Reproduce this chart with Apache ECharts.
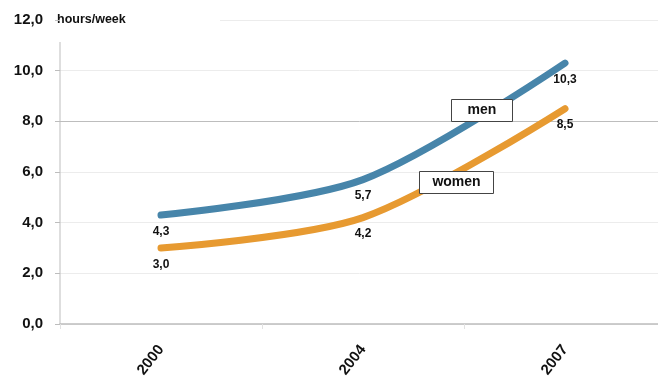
<!DOCTYPE html>
<html>
<head>
<meta charset="utf-8">
<script src="https://cdn.jsdelivr.net/npm/echarts@6/dist/echarts.min.js"></script>
<style>
  html, body { margin: 0; padding: 0; background: #fff; }
  #chart { width: 658px; height: 376px; }
</style>
</head>
<body>
<div id="chart"></div>
<script>
// Weekly hours, by year
const years = ['2000', '2004', '2007'];
const men = [4.3, 5.7, 10.3];
const women = [3.0, 4.2, 8.5];
const yTicks = [0, 2, 4, 6, 8, 10, 12];

const FONT = '"Liberation Sans", Arial, Helvetica, sans-serif';
const BLUE = '#4785aa';
const ORANGE = '#e79a31';

const fmt = v => v.toFixed(1).replace('.', ',');

const chart = echarts.init(document.getElementById('chart'));

// gridline colours per tick; the 8,0 line is drawn stronger, the top one separately
const gridColors = yTicks.map(t => t === 8 ? '#bdbdbd' : (t === 12 ? 'rgba(0,0,0,0)' : '#ececec'));

function lineSeries(name, values, color) {
  return {
    name: name,
    type: 'line',
    data: values,
    smooth: 0.3,
    showSymbol: true,
    symbol: 'circle',
    symbolSize: 1,
    lineStyle: { color: color, width: 7, cap: 'round' },
    itemStyle: { color: 'rgba(0,0,0,0)', borderWidth: 0 },
    label: {
      show: true,
      position: 'bottom',
      distance: 10,
      formatter: p => fmt(p.value),
      color: '#111',
      fontFamily: FONT,
      fontWeight: 'bold',
      fontSize: 12
    },
    z: 3
  };
}

chart.setOption({
  animation: false,
  grid: { left: 60, top: 20, width: 606, height: 304, containLabel: false, outerBoundsMode: 'none' },
  xAxis: {
    type: 'category',
    data: years,
    boundaryGap: true,
    axisLine: { show: true, lineStyle: { color: '#bdbdbd', width: 1.5 } },
    axisTick: { show: true, length: 5, lineStyle: { color: '#e2e2e2' } },
    axisLabel: {
      rotate: 52,
      margin: 23,
      color: '#111',
      fontFamily: FONT,
      fontWeight: 'bold',
      fontSize: 15
    },
    splitLine: { show: false }
  },
  yAxis: {
    type: 'value',
    min: 0,
    max: 12,
    interval: 2,
    name: 'hours/week',
    nameLocation: 'end',
    nameGap: 0,
    nameTextStyle: {
      align: 'left',
      verticalAlign: 'middle',
      padding: [0, 0, 0, -3],
      color: '#111',
      fontFamily: FONT,
      fontWeight: 'bold',
      fontSize: 12.5
    },
    axisLine: { show: false },
    axisTick: { show: true, length: 5, lineStyle: { color: '#bdbdbd' } },
    axisLabel: {
      margin: 17,
      formatter: v => fmt(v),
      color: '#111',
      fontFamily: FONT,
      fontWeight: 'bold',
      fontSize: 15
    },
    splitLine: { show: true, lineStyle: { color: gridColors, width: 1 } }
  },
  series: [
    lineSeries('men', men, BLUE),
    lineSeries('women', women, ORANGE)
  ],
  graphic: [
    // vertical axis rule and the short top rule
    { type: 'line', shape: { x1: 60, y1: 42, x2: 60, y2: 324 }, style: { stroke: '#bdbdbd', lineWidth: 1 }, z: 1 },
    { type: 'line', shape: { x1: 220, y1: 20.5, x2: 658, y2: 20.5 }, style: { stroke: '#ececec', lineWidth: 1 }, z: 1 },
    // series name boxes
    {
      type: 'group', left: 451, top: 99, z: 100,
      children: [
        { type: 'rect', z: 100, shape: { x: 0, y: 0, width: 61, height: 22 }, style: { fill: '#fff', stroke: '#444', lineWidth: 1 } },
        { type: 'text', z: 101, x: 30.5, y: 11, style: { text: 'men', align: 'center', verticalAlign: 'middle', fill: '#111', font: 'bold 14px ' + FONT } }
      ]
    },
    {
      type: 'group', left: 419, top: 171, z: 100,
      children: [
        { type: 'rect', z: 100, shape: { x: 0, y: 0, width: 74, height: 22 }, style: { fill: '#fff', stroke: '#444', lineWidth: 1 } },
        { type: 'text', z: 101, x: 37, y: 11, style: { text: 'women', align: 'center', verticalAlign: 'middle', fill: '#111', font: 'bold 14px ' + FONT } }
      ]
    }
  ]
});
</script>
</body>
</html>
